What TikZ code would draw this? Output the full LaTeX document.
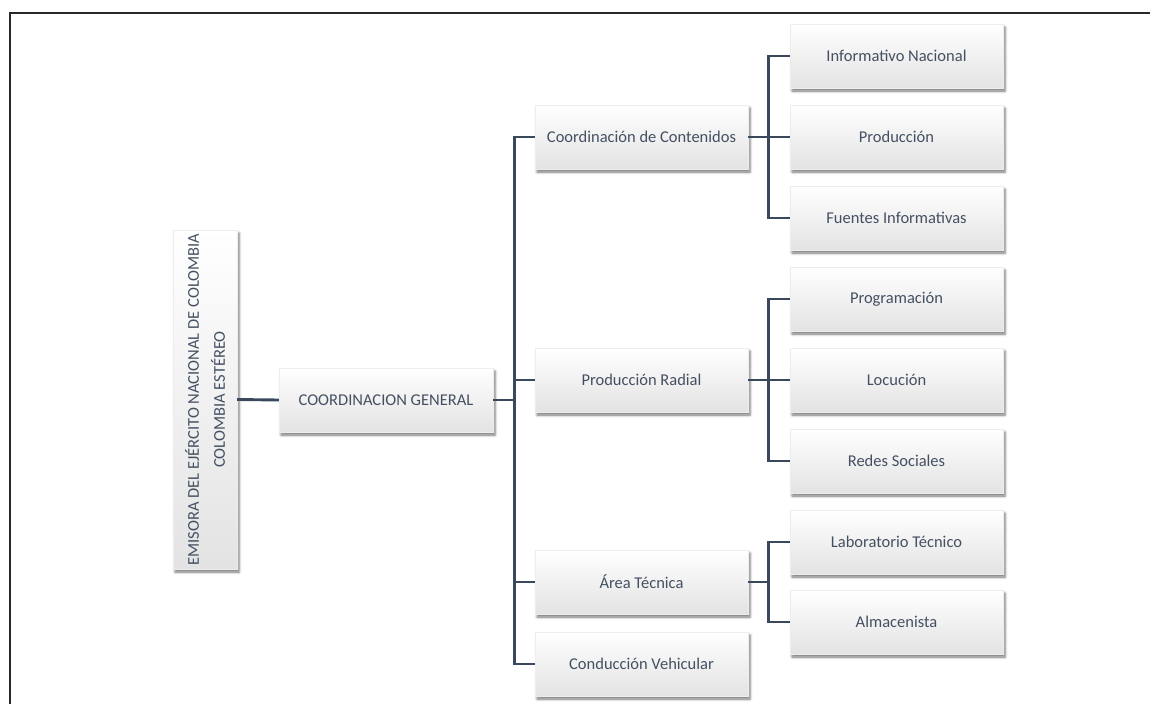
\documentclass[tikz,border=0pt]{standalone}
\usepackage{fontspec}
\setmainfont{Carlito}
\usetikzlibrary{shadows,shadows.blur}
\definecolor{txt}{RGB}{68,80,98}
\definecolor{lnk}{RGB}{58,72,92}
\definecolor{frm}{RGB}{40,40,40}
\tikzset{
  orgbox/.style={rectangle, minimum width=213pt, minimum height=64pt, inner sep=0pt,
    top color=white, bottom color=black!11, draw=black!7, line width=0.4pt,
    blur shadow={shadow xshift=2pt, shadow yshift=-3pt, shadow blur radius=2.5pt, shadow opacity=55},
    text=txt, font=\fontsize{16.5}{19}\selectfont},
  link/.style={draw=lnk, line width=2.9pt}
}
\begin{document}
\begin{tikzpicture}[x=1pt,y=-1pt]
\useasboundingbox (0,0) rectangle (1150,704);
\draw[frm, line width=2pt] (10,704) -- (10,13) -- (1150,13);

% root
\node[orgbox, minimum width=339pt, minimum height=64pt, rotate=90, align=center,
      font=\fontsize{16.5}{26}\selectfont] (root) at (205,399.5)
      {EMISORA DEL EJÉRCITO NACIONAL DE COLOMBIA\\COLOMBIA ESTÉREO};
\node[orgbox, minimum width=214pt] (cg) at (386,400) {COORDINACION GENERAL};

% level 2
\node[orgbox] (cc) at (641.5,137) {Coordinación de Contenidos};
\node[orgbox] (pr) at (641.5,380) {Producción Radial};
\node[orgbox] (at) at (641.5,582) {Área Técnica};
\node[orgbox] (cv) at (641.5,664) {Conducción Vehicular};

% level 3
\node[orgbox] (in) at (896.5,56) {Informativo Nacional};
\node[orgbox] (pd) at (896.5,137) {Producción};
\node[orgbox] (fi) at (896.5,218) {Fuentes Informativas};
\node[orgbox] (pg) at (896.5,299) {Programación};
\node[orgbox] (lo) at (896.5,380) {Locución};
\node[orgbox] (rs) at (896.5,461) {Redes Sociales};
\node[orgbox] (lt) at (896.5,542) {Laboratorio Técnico};
\node[orgbox] (al) at (896.5,622) {Almacenista};

% connectors
\draw[link] (root.south) -- (cg.west);
\foreach \c in {cc,pr,at,cv}
  \draw[link] (cg.east) -- ++(21,0) |- (\c.west);
\foreach \c in {in,pd,fi}
  \draw[link] (cc.east) -- ++(20,0) |- (\c.west);
\foreach \c in {pg,lo,rs}
  \draw[link] (pr.east) -- ++(20,0) |- (\c.west);
\foreach \c in {lt,al}
  \draw[link] (at.east) -- ++(20,0) |- (\c.west);
\end{tikzpicture}
\end{document}
